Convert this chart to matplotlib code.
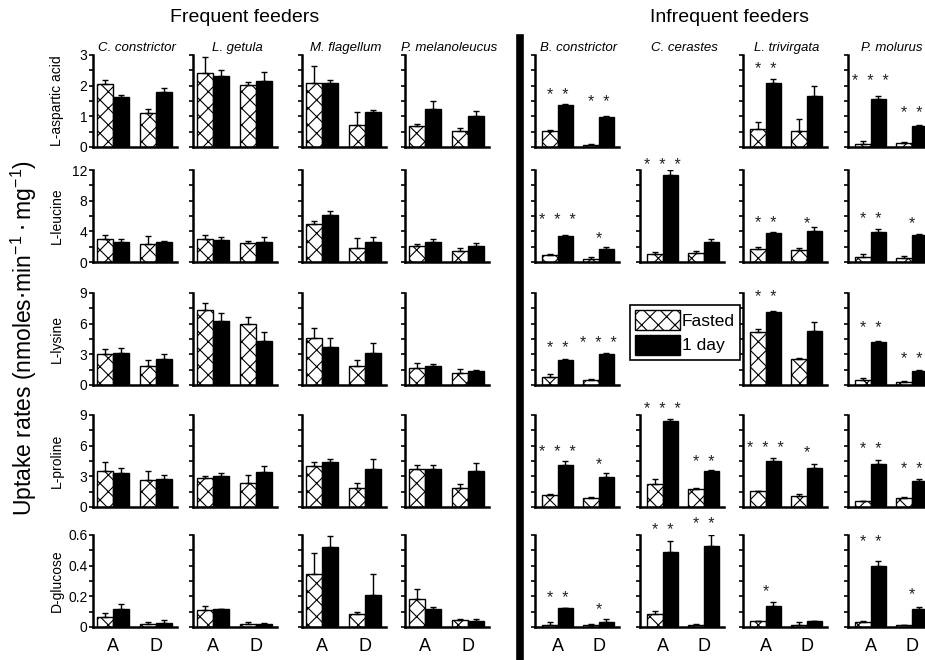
import matplotlib
matplotlib.use("Agg")
import matplotlib.pyplot as plt
from matplotlib.patches import Patch
from matplotlib.lines import Line2D
from matplotlib.ticker import MultipleLocator, FixedLocator

plt.rcParams['font.family'] = ['Liberation Sans', 'DejaVu Sans']
plt.rcParams['hatch.linewidth'] = 0.8

# ---- data (bars per species: Fasted A, 1 day A, Fasted D, 1 day D) ----
species = ['C. constrictor', 'L. getula', 'M. flagellum', 'P. melanoleucus',
           'B. constrictor', 'C. cerastes', 'L. trivirgata', 'P. molurus']
acids = ['L-aspartic acid', 'L-leucine', 'L-lysine', 'L-proline', 'D-glucose']
groups = ['A', 'D']

asp_mean = [[2.05, 1.62, 1.1, 1.8], [2.4, 2.3, 2.02, 2.15], [2.08, 2.1, 0.72, 1.15],
            [0.67, 1.25, 0.53, 1.02], [0.52, 1.38, 0.06, 0.98], None,
            [0.58, 2.1, 0.52, 1.65], [0.11, 1.55, 0.13, 0.68]]
asp_err = [[0.15, 0.06, 0.15, 0.12], [0.55, 0.2, 0.1, 0.3], [0.55, 0.1, 0.42, 0.05],
           [0.08, 0.25, 0.1, 0.15], [0.04, 0.03, 0.04, 0.03], None,
           [0.22, 0.12, 0.4, 0.35], [0.1, 0.1, 0.02, 0.03]]
asp_stars = [(4, 0, '**', 1.85), (4, 1, '**', 1.6), (6, 0, '**', 2.7),
             (7, 0, '***', 2.3), (7, 1, '**', 1.25)]

leu_mean = [[3.0, 2.6, 2.3, 2.6], [3.0, 2.9, 2.5, 2.6], [5.0, 6.1, 1.8, 2.6],
            [2.1, 2.6, 1.5, 2.1], [0.9, 3.45, 0.45, 1.7], [1.1, 11.3, 1.2, 2.6],
            [1.65, 3.8, 1.55, 4.1], [0.6, 3.95, 0.55, 3.5]]
leu_err = [[0.5, 0.4, 1.1, 0.15], [0.5, 0.3, 0.3, 0.6], [0.3, 0.6, 1.3, 0.6],
           [0.3, 0.4, 0.3, 0.4], [0.2, 0.12, 0.2, 0.3], [0.25, 0.7, 0.3, 0.45],
           [0.25, 0.15, 0.3, 0.5], [0.4, 0.3, 0.25, 0.2]]
leu_stars = [(4, 0, '***', 6.0), (4, 1, '*', 3.7), (5, 0, '***', 13.2), (6, 0, '**', 5.6),
             (6, 1, '*', 5.6), (7, 0, '**', 6.2), (7, 1, '*', 5.6)]

lys_mean = [[3.0, 3.1, 1.9, 2.5], [7.3, 6.3, 6.0, 4.3], [4.6, 3.7, 1.9, 3.1],
            [1.7, 1.9, 1.2, 1.4], [0.8, 2.4, 0.45, 3.0], None,
            [5.2, 7.1, 2.5, 5.3], [0.45, 4.2, 0.3, 1.4]]
lys_err = [[0.5, 0.5, 0.5, 0.5], [0.7, 0.7, 0.7, 0.9], [1.0, 0.9, 0.5, 1.0],
           [0.5, 0.2, 0.35, 0.1], [0.25, 0.12, 0.15, 0.15], None,
           [0.25, 0.1, 0.15, 0.85], [0.2, 0.12, 0.05, 0.07]]
lys_stars = [(4, 0, '**', 4.0), (4, 1, '***', 4.5), (6, 0, '**', 9.0),
             (7, 0, '**', 6.0), (7, 1, '**', 3.0)]

pro_mean = [[3.5, 3.35, 2.6, 2.7], [2.8, 3.07, 2.35, 3.45], [4.0, 4.38, 1.9, 3.75],
            [3.75, 3.7, 1.85, 3.5], [1.2, 4.15, 0.85, 2.95], [2.25, 8.4, 1.75, 3.5],
            [1.6, 4.5, 1.1, 3.85], [0.55, 4.2, 0.9, 2.55]]
pro_err = [[0.9, 0.5, 0.9, 0.4], [0.2, 0.25, 0.75, 0.6], [0.4, 0.35, 0.45, 0.9],
           [0.4, 0.4, 0.4, 0.8], [0.1, 0.32, 0.17, 0.38], [0.45, 0.25, 0.15, 0.15],
           [0.0, 0.25, 0.2, 0.38], [0.0, 0.42, 0.1, 0.17]]
pro_stars = [(4, 0, '***', 5.8), (4, 1, '*', 4.6), (5, 0, '***', 10.0), (5, 1, '**', 4.8),
             (6, 0, '***', 6.2), (6, 1, '*', 5.8), (7, 0, '**', 6.1), (7, 1, '**', 4.15)]

glu_mean = [[0.065, 0.12, 0.017, 0.026], [0.113, 0.115, 0.017, 0.02],
            [0.345, 0.52, 0.087, 0.207], [0.18, 0.115, 0.044, 0.04],
            [0.016, 0.125, 0.011, 0.034], [0.084, 0.49, 0.016, 0.526],
            [0.039, 0.136, 0.016, 0.039], [0.03, 0.4, 0.016, 0.118]]
glu_err = [[0.025, 0.03, 0.013, 0.018], [0.022, 0.005, 0.013, 0.008],
           [0.135, 0.075, 0.013, 0.136], [0.07, 0.015, 0.011, 0.01],
           [0.014, 0.0, 0.007, 0.016], [0.023, 0.07, 0.004, 0.074],
           [0.0, 0.024, 0.014, 0.0], [0.009, 0.03, 0.0, 0.012]]
glu_stars = [(4, 0, '**', 0.22), (4, 1, '*', 0.147), (5, 0, '**', 0.66), (5, 1, '**', 0.70),
             (6, 0, '*', 0.26), (7, 0, '**', 0.58), (7, 1, '*', 0.24)]

ymax = [3, 12, 9, 9, 0.6]
major_ticks = [[0, 1, 2, 3], [0, 4, 8, 12], [0, 3, 6, 9], [0, 3, 6, 9], [0, 0.2, 0.4, 0.6]]
major_labels = [['0', '1', '2', '3'], ['0', '4', '8', '12'], ['0', '3', '6', '9'],
                ['0', '3', '6', '9'], ['0', '0.2', '0.4', '0.6']]
minor_step = [0.5, 2, 1.5, 1.5, 0.1]

means = [asp_mean, leu_mean, lys_mean, pro_mean, glu_mean]
errs = [asp_err, leu_err, lys_err, pro_err, glu_err]
stars = [asp_stars, leu_stars, lys_stars, pro_stars, glu_stars]

# ---- layout (pixels of the 925x660 figure) ----
W, H = 925, 660
col_left = [93, 193, 302, 405, 535, 640, 743, 848]
col_w = 84
row_top = [55, 170, 293, 415, 535]
row_h = 92
GROUP_X = [1.2, 3.75]
BAR_W = 0.95

fig = plt.figure(figsize=(9.25, 6.6), dpi=100)

for r in range(5):
    for c in range(8):
        m = means[r][c]
        if m is None:
            continue
        e = errs[r][c]
        ax = fig.add_axes([col_left[c] / W, 1 - (row_top[r] + row_h) / H, col_w / W, row_h / H])
        xs_f = [g - BAR_W / 2 for g in GROUP_X]
        xs_d = [g + BAR_W / 2 for g in GROUP_X]
        fast = [m[0], m[2]]
        day = [m[1], m[3]]
        ax.bar(xs_f, fast, BAR_W, color='white', edgecolor='black', hatch='xx', lw=1, zorder=2)
        ax.bar(xs_d, day, BAR_W, color='black', edgecolor='black', lw=1, zorder=2)
        ax.errorbar(xs_f, fast, yerr=[[0, 0], [e[0], e[2]]], fmt='none', ecolor='black',
                    elinewidth=1, capsize=2.5, capthick=1, zorder=3)
        ax.errorbar(xs_d, day, yerr=[[0, 0], [e[1], e[3]]], fmt='none', ecolor='black',
                    elinewidth=1, capsize=2.5, capthick=1, zorder=3)
        for (sc, g, s, y) in stars[r]:
            if sc == c:
                ax.annotate('  '.join(s), (GROUP_X[g], y), xytext=(0, -3.5),
                            textcoords='offset points', ha='center', va='center',
                            fontsize=11.5, color='#222222', annotation_clip=False)
        ax.set_xlim(0 if c < 4 else -0.2, 5.0)
        ax.set_ylim(0, ymax[r])
        for sp in ['top', 'right']:
            ax.spines[sp].set_visible(False)
        for sp in ['left', 'bottom']:
            ax.spines[sp].set_linewidth(1.8)
        ax.yaxis.set_major_locator(FixedLocator(major_ticks[r]))
        ax.yaxis.set_minor_locator(MultipleLocator(minor_step[r]))
        ax.tick_params(axis='y', which='both', direction='out', length=3, width=1.2)
        if c == 0:
            ax.set_yticklabels(major_labels[r], fontsize=10)
            ax.tick_params(axis='y', pad=1)
        else:
            ax.tick_params(axis='y', labelleft=False)
        if r == 4:
            ax.set_xticks(GROUP_X)
            ax.set_xticklabels(groups, fontsize=13)
            ax.tick_params(axis='x', length=0, pad=8)
        else:
            ax.set_xticks([])

# species names
for c, name in enumerate(species):
    fig.text((col_left[c] + col_w / 2 + 2) / W, 1 - 48 / H, name, ha='center', va='center',
             fontsize=9.5, style='italic')

# row labels
for r, name in enumerate(acids):
    fig.text(57 / W, 1 - (row_top[r] + row_h / 2) / H, name, ha='center', va='center',
             rotation=90, fontsize=10)

fig.text(245 / W, 1 - 18 / H, 'Frequent feeders', ha='center', va='center', fontsize=14)
fig.text(730 / W, 1 - 18 / H, 'Infrequent feeders', ha='center', va='center', fontsize=14)
fig.text(24 / W, 1 - 338 / H,
         r'Uptake rates (nmoles$\cdot$min$^{\mathregular{-1}}\cdot$mg$^{\mathregular{-1}}$)',
         ha='center', va='center', rotation=90, fontsize=16.5)

# divider between feeder groups
fig.add_artist(Line2D([520 / W, 520 / W], [0, 1 - 38 / H], transform=fig.transFigure,
                      color='black', lw=5.5))

handles = [Patch(facecolor='white', edgecolor='black', hatch='xx', label='Fasted'),
           Patch(facecolor='black', edgecolor='black', label='1 day')]
leg = fig.legend(handles=handles, loc='upper left', bbox_to_anchor=(630 / W, 1 - 305 / H),
                 fontsize=12.5, fancybox=False, edgecolor='black', framealpha=1,
                 handlelength=2.6, handleheight=1.4, handletextpad=0.1,
                 borderpad=0.3, labelspacing=0.25, borderaxespad=0)
leg.get_frame().set_linewidth(1.2)

fig.savefig('out.png', dpi=100)
